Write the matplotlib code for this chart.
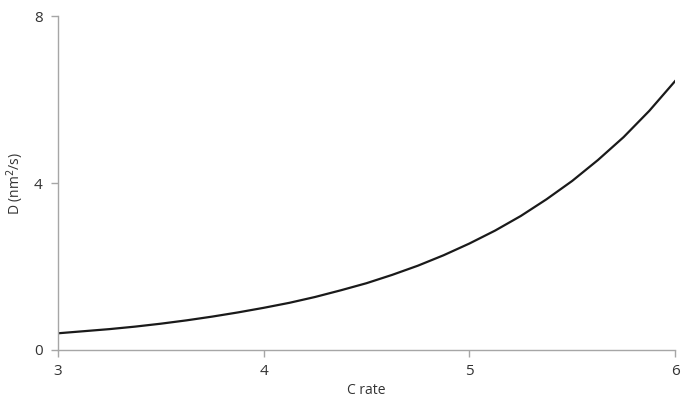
import matplotlib
matplotlib.use('Agg')
import matplotlib.pyplot as plt

# values
c_rate = [3.0, 3.125, 3.25, 3.375, 3.5, 3.625, 3.75, 3.875, 4.0, 4.125, 4.25, 4.375,
          4.5, 4.625, 4.75, 4.875, 5.0, 5.125, 5.25, 5.375, 5.5, 5.625, 5.75, 5.875, 6.0]
diff = [0.40, 0.45, 0.50, 0.56, 0.63, 0.71, 0.80, 0.90, 1.01, 1.13, 1.27, 1.43,
        1.60, 1.80, 2.02, 2.27, 2.55, 2.86, 3.21, 3.61, 4.05, 4.55, 5.10, 5.73, 6.44]
x_ticks = [3, 4, 5, 6]
y_ticks = [0, 4, 8]

plt.rcParams['font.family'] = ['Open Sans', 'DejaVu Sans']

fig = plt.figure(figsize=(6.91, 4.01), dpi=100)
ax = fig.add_axes([0.0839, 0.1272, 0.893, 0.8328])
ax.plot(c_rate, diff, color='#1a1a1a', linewidth=1.6, solid_joinstyle='round')

ax.set_xlim(3, 6)
ax.set_ylim(0, 8)
ax.set_xticks(x_ticks)
ax.set_yticks(y_ticks)

for s in ['top', 'right']:
    ax.spines[s].set_visible(False)
for s in ['left', 'bottom']:
    ax.spines[s].set_color('#a6a6a6')
    ax.spines[s].set_linewidth(1.0)
ax.tick_params(colors='#a6a6a6', length=5, width=1.0, labelcolor='#333333', labelsize=11)
ax.tick_params(axis='x', pad=5)
ax.tick_params(axis='y', pad=6)

ax.set_xlabel('C rate', fontsize=10, color='#333333', labelpad=3)
ax.set_ylabel('D (nm$^2$/s)', fontsize=10, color='#333333', labelpad=6)

fig.savefig('out.png', dpi=100)
